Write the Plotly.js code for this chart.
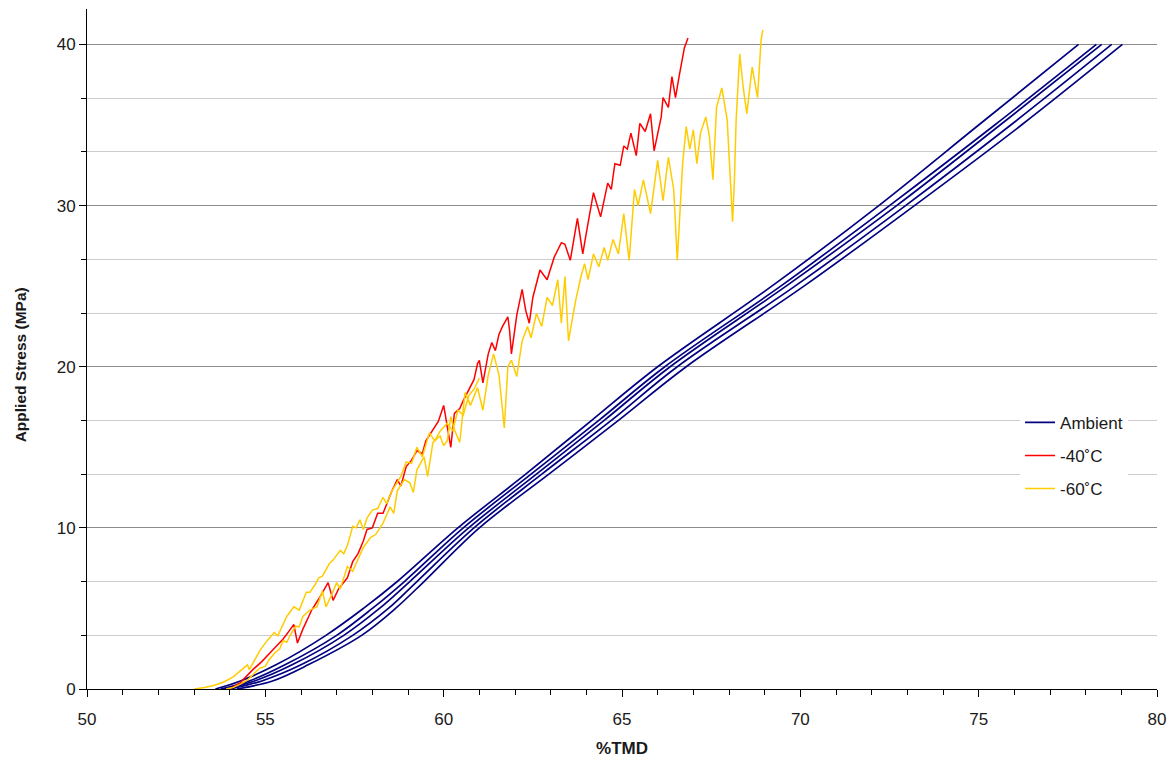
<!DOCTYPE html>
<html>
<head>
<meta charset="utf-8">
<script src="https://cdn.plot.ly/plotly-3.0.1.min.js"></script>
<style>html,body{margin:0;padding:0;background:#fff;}#chart{width:1174px;height:760px;}</style>
</head>
<body>
<div id="chart"></div>
<script>
// Ambient: five smooth runs sharing the same stress levels
const ambientStress = [0, 0.5, 1.5, 3.33, 5, 6.67, 10, 13.33, 16.67, 20, 25, 30, 35, 40];
const ambientTMD1 = [53.6, 54.3, 55.3, 56.7, 57.75, 58.7, 60.4, 62.3, 64.15, 66.0, 69.2, 72.2, 75.0, 77.8];
const ambientTMD2 = [53.75, 54.55, 55.55, 57.0, 58.0, 58.9, 60.55, 62.45, 64.35, 66.2, 69.45, 72.5, 75.45, 78.3];
const ambientTMD3 = [53.85, 54.7, 55.75, 57.2, 58.2, 59.05, 60.7, 62.6, 64.5, 66.35, 69.6, 72.7, 75.6, 78.45];
const ambientTMD4 = [54.0, 54.9, 56.0, 57.45, 58.45, 59.25, 60.85, 62.75, 64.7, 66.55, 69.85, 72.95, 75.9, 78.73];
const ambientTMD5 = [54.2, 55.2, 56.2, 57.7, 58.65, 59.45, 61.0, 62.95, 64.9, 66.8, 70.1, 73.2, 76.2, 79.03];

// -40°C run
const m40TMD = [54.0, 54.3, 54.65, 54.9, 55.2, 55.5, 55.7, 55.8, 55.9, 56.05, 56.3, 56.5, 56.76, 56.9, 57.05, 57.2, 57.3, 57.45, 57.6, 57.75, 57.85, 58.0, 58.15, 58.3, 58.4, 58.55, 58.7, 58.8, 58.95, 59.1, 59.25, 59.4, 59.5, 59.7, 59.85, 60.0, 60.1, 60.2, 60.3, 60.45, 60.55, 60.7, 60.85, 60.95, 61.0, 61.1, 61.25, 61.35, 61.45, 61.55, 61.65, 61.8, 61.85, 61.9, 62.05, 62.2, 62.3, 62.4, 62.5, 62.7, 62.9, 63.1, 63.3, 63.4, 63.55, 63.75, 63.9, 64.0, 64.2, 64.4, 64.6, 64.7, 64.8, 64.95, 65.05, 65.15, 65.25, 65.4, 65.5, 65.65, 65.8, 65.9, 66.1, 66.15, 66.3, 66.4, 66.5, 66.6, 66.75, 66.85];
const m40Stress = [0, 0.4, 1.2, 1.7, 2.4, 3.1, 3.7, 4.0, 2.85, 3.7, 4.9, 5.6, 6.6, 5.5, 6.2, 6.6, 6.9, 7.9, 8.4, 9.2, 9.9, 10.0, 10.9, 10.9, 11.5, 12.3, 13.0, 12.6, 13.8, 14.2, 14.8, 14.6, 15.4, 16.1, 16.6, 17.6, 16.3, 15.0, 17.1, 17.4, 17.9, 18.6, 19.2, 20.2, 20.4, 19.0, 20.8, 21.5, 21.0, 22.0, 22.5, 23.1, 22.2, 20.8, 23.2, 24.8, 23.5, 22.7, 24.3, 26.0, 25.4, 26.8, 27.7, 27.6, 26.6, 29.2, 27.0, 28.3, 30.8, 29.3, 31.4, 31.0, 32.6, 32.5, 33.7, 33.5, 34.5, 33.1, 35.1, 34.6, 35.7, 33.4, 35.5, 36.7, 36.1, 38.0, 36.7, 38.0, 39.8, 40.4];

// -60°C, first run (early, upper)
const m60aTMD = [53.0, 53.3, 53.6, 53.85, 54.1, 54.3, 54.5, 54.55, 54.7, 54.85, 55.05, 55.25, 55.35, 55.45, 55.6, 55.8, 55.95, 56.15, 56.25, 56.4, 56.5, 56.6, 56.8, 56.9, 57.1, 57.2, 57.3, 57.45, 57.55, 57.65, 57.75, 57.85, 58.0, 58.15, 58.3, 58.4, 58.55, 58.8, 58.95, 59.1, 59.25, 59.4, 59.6, 59.75, 59.9, 60.1, 60.25, 60.4, 60.55, 60.7, 60.85, 61.0];
const m60aStress = [0, 0.1, 0.25, 0.45, 0.75, 1.1, 1.5, 1.2, 1.8, 2.4, 3.0, 3.5, 3.3, 3.8, 4.5, 5.1, 4.9, 6.0, 6.0, 6.5, 6.9, 7.0, 7.8, 8.0, 8.6, 8.4, 8.9, 10.1, 10.0, 10.5, 9.9, 10.6, 11.1, 11.2, 11.9, 11.5, 12.3, 13.2, 14.1, 14.0, 15.0, 14.4, 15.9, 15.4, 16.0, 16.5, 16.0, 17.3, 17.0, 18.2, 18.6, 19.3];

// -60°C, second run
const m60bTMD = [53.9, 54.1, 54.3, 54.5, 54.75, 54.85, 55.0, 55.1, 55.25, 55.4, 55.5, 55.6, 55.7, 55.85, 55.95, 56.05, 56.25, 56.45, 56.6, 56.7, 56.85, 57.0, 57.1, 57.3, 57.45, 57.6, 57.75, 57.95, 58.1, 58.3, 58.5, 58.6, 58.7, 58.9, 59.05, 59.15, 59.25, 59.45, 59.55, 59.7, 59.9, 60.0, 60.1, 60.2, 60.3, 60.45, 60.6, 60.75, 60.95, 61.1, 61.25, 61.4, 61.55, 61.7, 61.8, 61.9, 62.05, 62.2, 62.35, 62.45, 62.6, 62.75, 62.9, 63.05, 63.2, 63.3, 63.4, 63.5, 63.7, 63.85, 63.95, 64.05, 64.2, 64.35, 64.5, 64.6, 64.75, 64.9, 65.05, 65.2, 65.35, 65.45, 65.6, 65.8, 66.0, 66.15, 66.3, 66.45, 66.55, 66.7, 66.8, 66.9, 67.0, 67.1, 67.2, 67.35, 67.45, 67.55, 67.65, 67.8, 67.95, 68.05, 68.1, 68.15, 68.2, 68.3, 68.4, 68.5, 68.65, 68.8, 68.9, 68.95];
const m60bStress = [0, 0.1, 0.3, 0.55, 1.1, 1.3, 1.4, 1.8, 2.2, 2.5, 3.0, 2.9, 3.35, 3.9, 3.85, 4.5, 4.9, 5.1, 6.1, 5.1, 5.8, 6.6, 6.2, 7.6, 7.3, 8.1, 8.8, 9.4, 9.6, 10.3, 11.3, 10.9, 12.3, 13.0, 12.8, 12.2, 13.6, 14.4, 13.2, 15.3, 15.7, 15.1, 15.4, 16.9, 16.1, 15.3, 18.4, 17.6, 18.7, 17.3, 19.5, 20.8, 19.5, 16.2, 20.0, 20.4, 19.4, 21.6, 22.5, 21.8, 23.3, 22.5, 24.3, 23.8, 25.4, 22.7, 25.6, 21.6, 24.1, 25.6, 26.4, 25.4, 27.0, 26.2, 27.4, 26.6, 27.9, 27.0, 29.5, 26.6, 31.0, 30.0, 31.6, 29.5, 32.8, 30.3, 33.0, 31.0, 26.6, 32.6, 34.9, 33.5, 34.7, 32.6, 34.5, 35.5, 34.3, 31.6, 36.1, 37.3, 35.3, 31.1, 29.0, 31.5, 35.3, 39.4, 37.3, 35.7, 38.6, 36.7, 40.3, 40.9];

const legendNames = ['Ambient', '-40˚C', '-60˚C'];
const xAxisTitle = '%TMD';
const yAxisTitle = 'Applied Stress (MPa)';
const xTickVals = [50, 55, 60, 65, 70, 75, 80];
const yTickVals = [0, 10, 20, 30, 40];
const yMinorVals = [10/3, 20/3, 40/3, 50/3, 70/3, 80/3, 100/3, 110/3, 130/3];

const NAVY = '#000080', RED = '#ff0000', GOLD = '#ffcc00';
const ambientRuns = [ambientTMD1, ambientTMD2, ambientTMD3, ambientTMD4, ambientTMD5];
const traces = [];
ambientRuns.forEach((xs, i) => {
  traces.push({x: xs, y: ambientStress, type: 'scatter', mode: 'lines',
    line: {color: NAVY, width: 1.7, shape: 'spline', smoothing: 1},
    name: legendNames[0], legendgroup: 'a', showlegend: i === 0});
});
traces.push({x: m40TMD, y: m40Stress, type: 'scatter', mode: 'lines',
  line: {color: RED, width: 1.5}, name: legendNames[1], legendgroup: 'b'});
traces.push({x: m60aTMD, y: m60aStress, type: 'scatter', mode: 'lines',
  line: {color: GOLD, width: 1.5}, name: legendNames[2], legendgroup: 'c'});
traces.push({x: m60bTMD, y: m60bStress, type: 'scatter', mode: 'lines',
  line: {color: GOLD, width: 1.5}, name: legendNames[2], legendgroup: 'c', showlegend: false});

const FONT = 'Liberation Sans, Arial, sans-serif';
const layout = {
  width: 1174, height: 760,
  margin: {l: 87, r: 17, t: 9, b: 71, pad: 0},
  paper_bgcolor: '#fff', plot_bgcolor: '#fff',
  font: {family: FONT, size: 17, color: '#1a1a1a'},
  showlegend: true,
  legend: {x: 0.872, y: 0.418, xanchor: 'left', yanchor: 'top', bgcolor: '#ffffff',
    borderwidth: 0, font: {family: FONT, size: 17, color: '#1a1a1a'},
    tracegroupgap: 8, traceorder: 'grouped'},
  xaxis: {range: [50, 80], tickmode: 'array', tickvals: xTickVals, ticks: 'outside',
    ticklen: 7, tickwidth: 1, tickcolor: '#000', showline: true, linecolor: '#000', linewidth: 1,
    showgrid: false, zeroline: false, ticklabelstandoff: 8,
    tickfont: {family: FONT, size: 17, color: '#1a1a1a'},
    minor: {dtick: 1, tick0: 50, ticks: 'outside', ticklen: 5, tickcolor: '#000', showgrid: false},
    title: {text: xAxisTitle, font: {family: FONT, size: 17, color: '#1a1a1a', weight: 'bold'}, standoff: 13}},
  yaxis: {range: [0, 42.2], tickmode: 'array', tickvals: yTickVals, ticks: 'outside',
    ticklen: 7, tickwidth: 1, tickcolor: '#000', showline: true, linecolor: '#000', linewidth: 1,
    showgrid: true, gridcolor: '#8c8c8c', gridwidth: 1, zeroline: false,
    tickfont: {family: FONT, size: 17, color: '#1a1a1a'},
    minor: {tickmode: 'array', tickvals: yMinorVals, ticks: 'outside', ticklen: 5, tickcolor: '#000',
      showgrid: true, gridcolor: '#cccccc', gridwidth: 1}},
  annotations: [{text: yAxisTitle, xref: 'paper', yref: 'paper', x: -0.0626, y: 0.476,
    xanchor: 'center', yanchor: 'middle', textangle: -90, showarrow: false,
    font: {family: FONT, size: 15.5, color: '#1a1a1a', weight: 'bold'}}]
};
Plotly.newPlot('chart', traces, layout, {displayModeBar: false, responsive: false});
</script>
</body>
</html>
